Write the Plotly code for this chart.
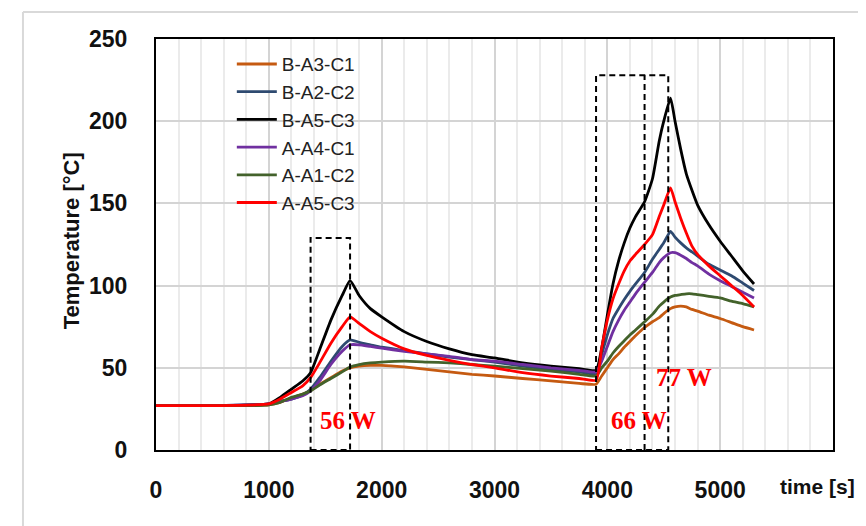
import plotly.graph_objects as go

# ---- data ----
time_s = [0, 500, 1000, 1100, 1200, 1300, 1370, 1450, 1550, 1650, 1720, 1800, 1900, 2000,
          2200, 2400, 2600, 2800, 3000, 3250, 3500, 3750, 3900, 3950, 4000, 4050, 4100,
          4150, 4200, 4250, 4330, 4400, 4460, 4500, 4560, 4600, 4650, 4700, 4750, 4800,
          4900, 5000, 5100, 5200, 5300]

b_a3_c1 = [27, 27, 27.5, 29, 31.5, 34, 36, 40, 44, 48, 50, 51, 51.5, 51.5,
           50.5, 49, 47.5, 46, 45, 43.5, 42, 40.5, 40, 45, 50, 55, 58.5,
           62.5, 66, 69.5, 74.5, 78, 80.5, 83, 86, 87, 87.5, 87, 85.5, 84.5,
           82, 80, 77.5, 75, 73]
b_a2_c2 = [27, 27, 28, 29.5, 31, 33.5, 37, 44, 54, 63, 67, 65.5, 64, 62.5,
           60.5, 58.5, 56.5, 55, 53.5, 51, 49, 47.5, 46.5, 58, 70, 80, 86,
           91.5, 96.5, 101, 108, 116, 122, 126, 133, 129.5, 126, 123, 120.5, 118,
           113, 109.5, 106, 101.5, 97]
b_a5_c3 = [27, 27, 28, 32, 37, 42, 47, 61, 79, 94, 103, 94, 86, 81,
           72, 66, 61.5, 58, 56, 53, 51, 49.5, 48.5, 62, 82, 101, 115,
           126, 135, 142, 151, 165, 188, 200, 214, 200, 183, 168, 158, 149,
           137, 127, 118, 109, 101]
a_a4_c1 = [27, 27, 28, 29.5, 31, 33, 36, 42, 52, 60, 64, 64, 63, 62,
           60, 58.5, 57, 55, 54, 52, 50, 48.5, 47.5, 54, 63, 72, 79,
           85, 90, 95, 102, 108, 114, 117, 120, 120, 118.5, 116.5, 114, 112,
           107, 103, 99.5, 96, 92.5]
a_a1_c2 = [27, 27, 27.5, 29, 32, 34, 36, 39.5, 43.5, 47.5, 50.5, 52, 53, 53.5,
           54, 53.5, 53, 52, 51, 49.5, 48, 46, 45, 50, 54, 59, 63,
           66.5, 70, 73, 78, 82.5, 87.5, 90, 93, 94, 94.5, 95, 95, 94.5,
           93.5, 92.5, 90.5, 89, 87]
a_a5_c3 = [27, 27, 28, 31, 35, 39, 44, 53, 65, 75, 81, 77, 72, 68,
           61.5, 57.5, 54.5, 52, 50, 47, 45, 43.5, 42.5, 62, 79, 92, 101,
           109, 115, 119, 125, 131, 142, 149, 159.5, 151, 141, 132, 124, 119,
           112, 106, 100, 94, 87]

series_names = ["B-A3-C1", "B-A2-C2", "B-A5-C3", "A-A4-C1", "A-A1-C2", "A-A5-C3"]
series_values = [b_a3_c1, b_a2_c2, b_a5_c3, a_a4_c1, a_a1_c2, a_a5_c3]
series_colors = ["#C55A11", "#2E4A70", "#000000", "#7030A0", "#43622B", "#FF0000"]

x_ticks = [0, 1000, 2000, 3000, 4000, 5000]
y_ticks = [0, 50, 100, 150, 200, 250]

# power-step boxes: (t_start, t_end, top)
box1 = (1370, 1720, 129)
box2 = (3900, 4540, 228)
box2_divider = 4330
power_labels = [("56 W", 1700, 18), ("66 W", 4280, 18), ("77 W", 4680, 44)]

fig = go.Figure()
for i, (name, vals, col) in enumerate(zip(series_names, series_values, series_colors)):
    fig.add_trace(go.Scatter(x=time_s, y=vals, mode="lines", name=name,
                             line=dict(color=col, width=2.8, shape="spline", smoothing=0.5),
                             legendgroup=f"g{i}"))

dash = dict(color="black", width=2, dash="6px,4px")
for (x0, x1, top) in (box1, box2):
    fig.add_shape(type="rect", xref="x", yref="y", x0=x0, x1=x1, y0=0, y1=top,
                  line=dash, fillcolor="rgba(0,0,0,0)")
fig.add_shape(type="line", xref="x", yref="y", x0=box2_divider, x1=box2_divider,
              y0=0, y1=box2[2], line=dash)

for txt, xx, yy in power_labels:
    fig.add_annotation(x=xx, y=yy, xref="x", yref="y", text=f"<b>{txt}</b>", showarrow=False,
                       font=dict(family="Liberation Serif", size=25, color="#FF0000"))

# outer light frame
fig.add_shape(type="line", xref="paper", yref="paper", x0=-0.1965, x1=1.1, y0=1.0657, y1=1.0657,
              line=dict(color="#D9D9D9", width=2))
fig.add_shape(type="line", xref="paper", yref="paper", x0=-0.1965, x1=-0.1965, y0=1.0657, y1=-0.3,
              line=dict(color="#D9D9D9", width=2))

fig.add_annotation(x=0.977, y=-0.09, xref="paper", yref="paper", text="<b>time [s]</b>",
                   showarrow=False, xanchor="center", yanchor="middle",
                   font=dict(family="Liberation Sans", size=21, color="#111"))
fig.add_annotation(x=-0.1256, y=0.51, xref="paper", yref="paper", text="<b>Temperature [°C]</b>",
                   showarrow=False, textangle=-90, xanchor="center", yanchor="middle",
                   font=dict(family="Liberation Sans", size=22, color="#111"))

tickfont = dict(family="Liberation Sans", size=23, color="#111", weight="bold")
fig.update_xaxes(range=[0, 6000], tickvals=x_ticks, ticktext=[str(v) for v in x_ticks],
                 showgrid=True, gridcolor="#D4D4D4", gridwidth=2,
                 minor=dict(dtick=200, showgrid=True, gridcolor="#EBEBEB", gridwidth=1.5),
                 showline=True, linecolor="black", linewidth=2, mirror=True,
                 ticks="", tickfont=tickfont, ticklabelstandoff=18, zeroline=False)
fig.update_yaxes(range=[0, 250], tickvals=y_ticks, ticktext=[str(v) for v in y_ticks],
                 showgrid=True, gridcolor="#D4D4D4", gridwidth=2,
                 showline=True, linecolor="black", linewidth=2, mirror=True,
                 ticks="", tickfont=tickfont, ticklabelstandoff=22, zeroline=False)

fig.update_layout(
    width=858, height=518,
    margin=dict(l=148, r=33, t=31, b=76),
    paper_bgcolor="white", plot_bgcolor="white",
    showlegend=True,
    legend=dict(x=0.112, y=0.985, xanchor="left", yanchor="top",
                bgcolor="rgba(255,255,255,0)", borderwidth=0,
                font=dict(family="Liberation Sans", size=19, color="#222"),
                tracegroupgap=0, itemwidth=40),
)

fig.write_html("out.html")
